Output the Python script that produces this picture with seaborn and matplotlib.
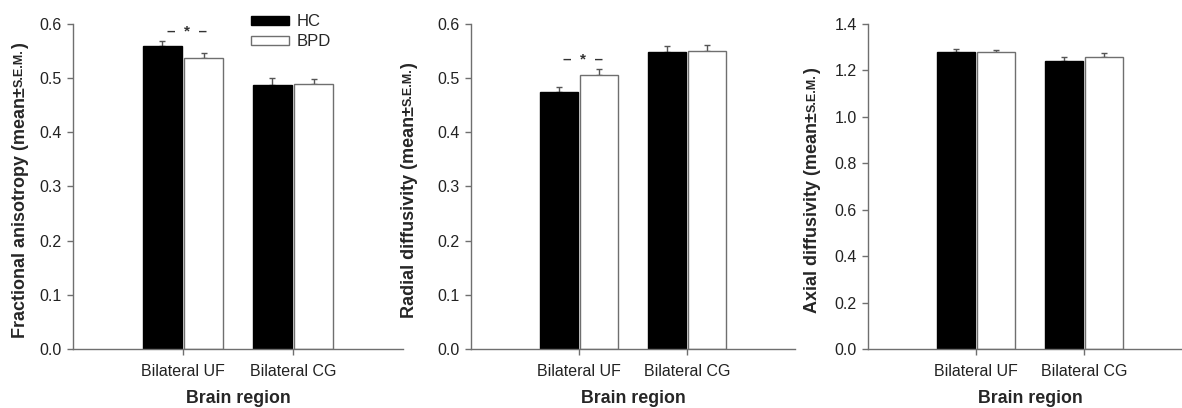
import numpy as np
import pandas as pd
import matplotlib
matplotlib.use('Agg')
import matplotlib.pyplot as plt
from matplotlib.patches import Patch
import seaborn as sns

# data (mean and S.E.M.)
regions = ['Bilateral UF', 'Bilateral CG']
groups = ['HC', 'BPD']

fa_hc = [0.560, 0.487]
fa_bpd = [0.537, 0.489]
fa_hc_sem = [0.008, 0.013]
fa_bpd_sem = [0.009, 0.010]

rd_hc = [0.475, 0.548]
rd_bpd = [0.505, 0.551]
rd_hc_sem = [0.009, 0.011]
rd_bpd_sem = [0.011, 0.010]

ad_hc = [1.278, 1.242]
ad_bpd = [1.278, 1.256]
ad_hc_sem = [0.013, 0.014]
ad_bpd_sem = [0.009, 0.018]

fa_ticks = [0.0, 0.1, 0.2, 0.3, 0.4, 0.5, 0.6]
rd_ticks = [0.0, 0.1, 0.2, 0.3, 0.4, 0.5, 0.6]
ad_ticks = [0.0, 0.2, 0.4, 0.6, 0.8, 1.0, 1.2, 1.4]

sns.set_style('ticks')
plt.rcParams['font.family'] = ['Liberation Sans', 'DejaVu Sans']

grey = '#6f6f6f'

fig = plt.figure(figsize=(11.82, 4.08), dpi=100)
W, H = 1182, 408


def make_ax(left, right, top=24, bottom=349):
    return fig.add_axes([left / W, 1 - bottom / H, (right - left) / W, (bottom - top) / H])


axes = [make_ax(73, 403), make_ax(471, 795), make_ax(868, 1192)]

panels = [
    (fa_hc, fa_bpd, fa_hc_sem, fa_bpd_sem, fa_ticks, 'Fractional anisotropy', -0.16),
    (rd_hc, rd_bpd, rd_hc_sem, rd_bpd_sem, rd_ticks, 'Radial diffusivity', -0.19),
    (ad_hc, ad_bpd, ad_hc_sem, ad_bpd_sem, ad_ticks, 'Axial diffusivity', -0.17),
]

ylabel_parts = []
for ax, (hc, bpd, hc_sem, bpd_sem, ticks, name, lab_x) in zip(axes, panels):
    df = pd.DataFrame({
        'region': regions * 2,
        'group': ['HC'] * 2 + ['BPD'] * 2,
        'value': hc + bpd,
        'sem': hc_sem + bpd_sem,
    })
    sns.barplot(data=df, x='region', y='value', hue='group', order=regions,
                hue_order=groups, palette={'HC': 'black', 'BPD': 'white'},
                width=0.75, gap=0.05, errorbar=None, legend=False, ax=ax, zorder=2)
    # edge colours: black bars black, white bars grey
    for p in ax.patches:
        fc = p.get_facecolor()
        p.set_edgecolor('black' if fc[0] < 0.5 else grey)
        p.set_linewidth(1.0)
    # upper-only error bars at bar centres
    xs = [p.get_x() + p.get_width() / 2 for p in ax.patches[:4]]
    tops = [p.get_height() for p in ax.patches[:4]]
    sems = df['sem'].tolist()
    ax.errorbar(xs, tops, yerr=[np.zeros(4), sems], fmt='none', ecolor='#555555',
                elinewidth=1.0, capsize=2.5, capthick=1.0, zorder=1)

    ax.set_xlim(-1.0, 2.0)
    ax.set_ylim(0, ticks[-1])
    ax.set_yticks(ticks)
    ax.set_yticklabels([f'{t:.1f}' for t in ticks])
    sns.despine(ax=ax)
    for s in ['left', 'bottom']:
        ax.spines[s].set_color(grey)
        ax.spines[s].set_linewidth(1.0)
    ax.tick_params(axis='y', direction='out', length=4, width=1, color=grey,
                   labelsize=11.5, labelcolor='#222222', pad=4)
    ax.tick_params(axis='x', direction='out', length=4, width=1, color=grey,
                   labelsize=11.5, labelcolor='#222222', pad=7)
    ax.set_xlabel('Brain region', fontsize=12.8, fontweight='bold', labelpad=8)
    ax.set_ylabel('')

    # y label with small-caps S.E.M.
    t1 = ax.text(lab_x, 0.0, name + ' (mean±', rotation=90, transform=ax.transAxes,
                 ha='center', va='bottom', fontsize=13, fontweight='bold')
    t2 = ax.annotate('S.E.M.', xy=(0.82, 1), xycoords=t1, rotation=90,
                     ha='right', va='bottom', fontsize=9, fontweight='bold')
    t3 = ax.annotate(')', xy=(0.5, 1), xycoords=(t1, t2), rotation=90,
                     ha='center', va='bottom', fontsize=13, fontweight='bold')
    ylabel_parts.append((ax, t1, t2, t3))

# significance markers above Bilateral UF
for ax, hc, bpd, hc_sem, bpd_sem in [(axes[0], fa_hc, fa_bpd, fa_hc_sem, fa_bpd_sem),
                                     (axes[1], rd_hc, rd_bpd, rd_hc_sem, rd_bpd_sem)]:
    ymax = ax.get_ylim()[1]
    y = max(hc[0] + hc_sem[0], bpd[0] + bpd_sem[0]) + 0.03 * ymax
    ax.text(0.035, y, '–  *  –', ha='center', va='center', fontsize=11,
            color='#333333', fontweight='bold')

# legend in first panel
handles = [Patch(facecolor='black', edgecolor='black', label='HC'),
           Patch(facecolor='white', edgecolor=grey, label='BPD')]
axes[0].legend(handles=handles, loc='upper left', bbox_to_anchor=(0.54, 1.03),
               frameon=False, fontsize=12, handlelength=2.25, handleheight=0.45,
               handletextpad=0.5, labelspacing=0.3, borderpad=0, borderaxespad=0)

# centre each composite y label on the axis
fig.canvas.draw()
r = fig.canvas.get_renderer()
for ax, t1, t2, t3 in ylabel_parts:
    b1 = t1.get_window_extent(r)
    b3 = t3.get_window_extent(r)
    axb = ax.get_window_extent(r)
    total = b3.y1 - b1.y0
    target_y0 = (axb.y0 + axb.y1) / 2 - total / 2 - 4
    x, _ = t1.get_position()
    t1.set_position((x, (target_y0 - axb.y0) / axb.height))

fig.savefig('out.png', dpi=100)
